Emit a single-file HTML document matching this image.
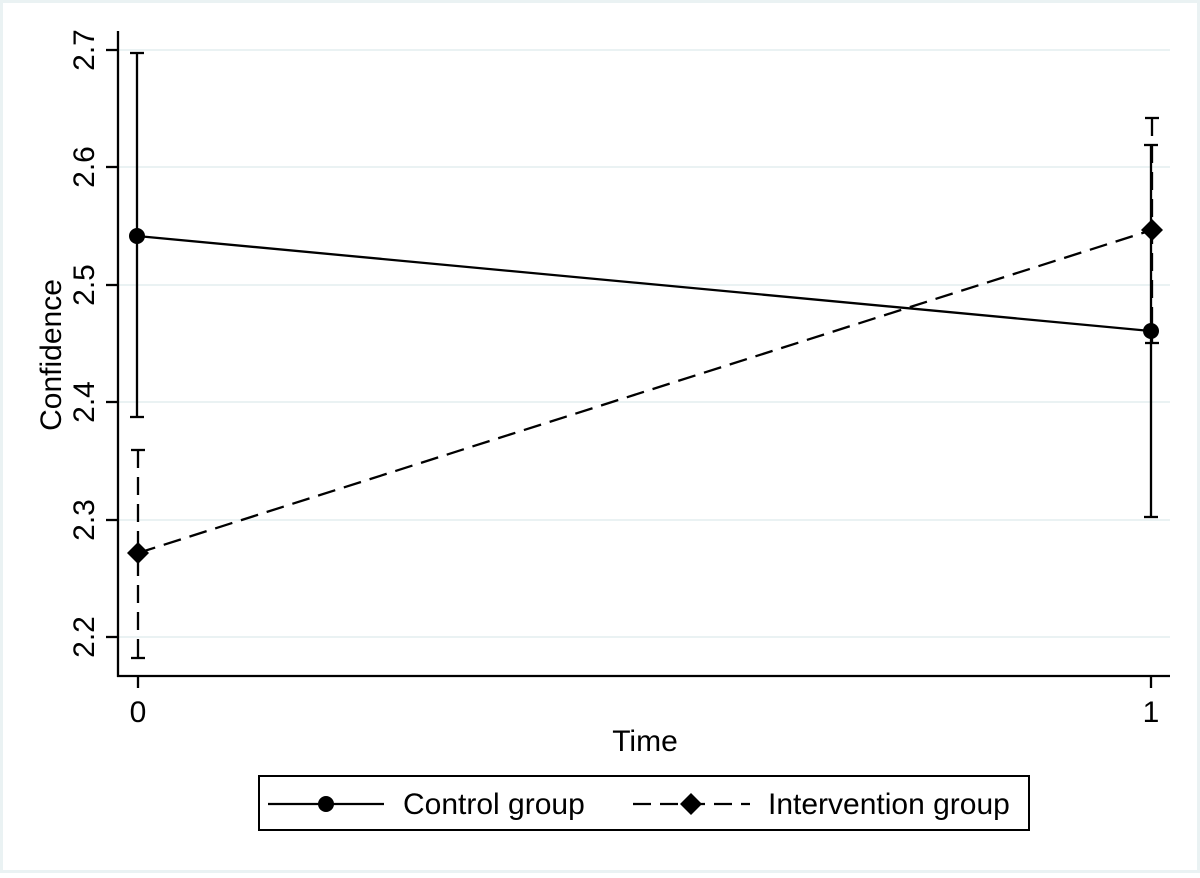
<!DOCTYPE html>
<html><head><style>body{margin:0;background:#fff}</style></head><body>
<svg width="1200" height="873" xmlns="http://www.w3.org/2000/svg" font-family="Liberation Sans, Arial, sans-serif">
<rect x="0" y="0" width="1200" height="873" fill="#eaf2f3"/>
<rect x="3" y="3" width="1194" height="867" fill="#fff"/>
<g stroke="#eaf2f3" stroke-width="2">
<line x1="119" x2="1170" y1="50" y2="50"/><line x1="119" x2="1170" y1="167" y2="167"/>
<line x1="119" x2="1170" y1="285" y2="285"/><line x1="119" x2="1170" y1="402" y2="402"/>
<line x1="119" x2="1170" y1="520" y2="520"/><line x1="119" x2="1170" y1="637" y2="637"/>
</g>
<g stroke="#000" stroke-width="2.3" fill="none">
<line x1="118" y1="31" x2="118" y2="677"/>
<line x1="117" y1="676" x2="1170" y2="676"/>
<line x1="106" x2="118" y1="50" y2="50"/><line x1="106" x2="118" y1="167" y2="167"/>
<line x1="106" x2="118" y1="285" y2="285"/><line x1="106" x2="118" y1="402" y2="402"/>
<line x1="106" x2="118" y1="520" y2="520"/><line x1="106" x2="118" y1="637" y2="637"/>
<line x1="138" x2="138" y1="676" y2="688"/><line x1="1151" x2="1151" y1="676" y2="688"/>
<line x1="137" y1="53" x2="137" y2="417"/><line x1="130" x2="144" y1="53" y2="53"/><line x1="130" x2="144" y1="417" y2="417"/>
<line x1="1151" y1="145" x2="1151" y2="517"/><line x1="1144" x2="1158" y1="145" y2="145"/><line x1="1144" x2="1158" y1="517" y2="517"/>
<line x1="137" y1="236" x2="1151" y2="331"/>
<g stroke-dasharray="18 9">
<line x1="138" y1="450" x2="138" y2="658"/>
<line x1="1152" y1="118" x2="1152" y2="343"/>
<line x1="138" y1="553" x2="1152" y2="230"/>
</g>
<line x1="131" x2="145" y1="450" y2="450"/><line x1="131" x2="145" y1="658" y2="658"/>
<line x1="1145" x2="1159" y1="118" y2="118"/><line x1="1145" x2="1159" y1="343" y2="343"/>
</g>
<circle cx="137" cy="236" r="8"/><circle cx="1151" cy="331" r="8"/>
<path d="M138 542 L149 553 L138 564 L127 553Z"/><path d="M1152 219 L1163 230 L1152 241 L1141 230Z"/>
<g font-size="30" fill="#000" text-anchor="middle">
<text transform="translate(94,50) rotate(-90)">2.7</text>
<text transform="translate(94,167) rotate(-90)">2.6</text>
<text transform="translate(94,285) rotate(-90)">2.5</text>
<text transform="translate(94,402) rotate(-90)">2.4</text>
<text transform="translate(94,520) rotate(-90)">2.3</text>
<text transform="translate(94,637) rotate(-90)">2.2</text>
<text transform="translate(61,355) rotate(-90)">Confidence</text>
<text x="138" y="722">0</text><text x="1151" y="722">1</text>
<text x="645" y="751">Time</text>
</g>
<rect x="259" y="776" width="770" height="54" fill="#fff" stroke="#000" stroke-width="2"/>
<line x1="268" y1="804" x2="384" y2="804" stroke="#000" stroke-width="2.3"/>
<circle cx="326" cy="804" r="8"/>
<text x="403" y="814" font-size="30">Control group</text>
<line x1="633" y1="804" x2="750" y2="804" stroke="#000" stroke-width="2.3" stroke-dasharray="18 9"/>
<path d="M691 793 L702 804 L691 815 L680 804Z"/>
<text x="768" y="814" font-size="30">Intervention group</text>
</svg>
</body></html>
